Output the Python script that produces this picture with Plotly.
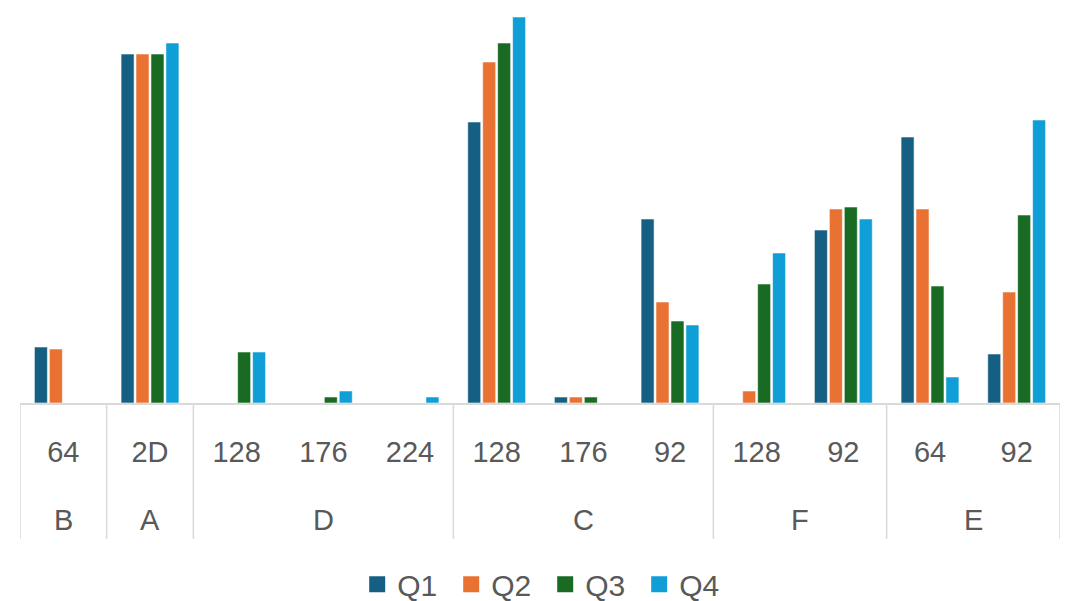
import plotly.graph_objects as go

# Two-level categories: group (outer) and size (inner)
groups = ["B", "A", "D", "D", "D", "C", "C", "C", "F", "F", "E", "E"]
sizes = ["64", "2D", "128", "176", "224", "128", "176", "92", "128", "92", "64", "92"]

series_names = ["Q1", "Q2", "Q3", "Q4"]
q1 = [56, 349, None, None, None, 281, 6, 184, None, 173, 266, 49]
q2 = [54, 349, None, None, None, 341, 6, 101, 12, 194, 194, 111]
q3 = [None, 349, 51, 6, None, 360, 6, 82, 119, 196, 117, 188]
q4 = [None, 360, 51, 12, 6, 386, None, 78, 150, 184, 26, 283]

colors = ["#156082", "#E97132", "#196B24", "#0F9ED5"]
text_color = "#595959"
rule_color = "#d9d9d9"
font_family = "Liberation Sans, Arial, sans-serif"

positions = list(range(len(sizes)))

fig = go.Figure()
for name, vals, col in zip(series_names, [q1, q2, q3, q4], colors):
    fig.add_trace(go.Bar(
        x=positions, y=vals, name=name,
        marker=dict(color=col, line=dict(color="rgba(255,255,255,0.55)", width=1)),
        showlegend=False,
    ))
    # legend entry with a larger square swatch
    fig.add_trace(go.Scatter(
        x=[None], y=[None], mode="markers", name=name,
        marker=dict(symbol="square", size=16, color=col),
        showlegend=True, hoverinfo="skip",
    ))

# spans of the outer groups: (label, first index, last index)
spans = []
for i, g in enumerate(groups):
    if spans and spans[-1][0] == g:
        spans[-1][2] = i
    else:
        spans.append([g, i, i])

label_depth = -0.34  # bottom of the divider rules, in paper units
for g, a, b in spans:
    fig.add_annotation(
        x=(a + b) / 2, xref="x", y=0, yref="paper", yanchor="middle",
        yshift=-117, text=g, showarrow=False,
        font=dict(size=29, color=text_color, family=font_family),
    )
boundaries = [spans[0][1] - 0.5] + [b + 0.5 for _, _, b in spans]
for xb in boundaries:
    fig.add_shape(
        type="line", xref="x", yref="paper", x0=xb, x1=xb, y0=0, y1=label_depth,
        line=dict(color=rule_color, width=1.5), layer="below",
    )

fig.update_layout(
    width=1069, height=601,
    margin=dict(l=20, r=9, t=3, b=198, autoexpand=False),
    paper_bgcolor="white", plot_bgcolor="white",
    barmode="group", bargap=0.31, bargroupgap=0.13,
    font=dict(family=font_family, size=29, color=text_color),
    legend=dict(
        orientation="h", x=0.505, xanchor="center",
        yref="container", y=0.028, yanchor="middle",
        font=dict(size=30, color=text_color),
        itemwidth=30, traceorder="normal",
        entrywidth=49, entrywidthmode="pixels",
    ),
    xaxis=dict(
        range=[-0.5, len(sizes) - 0.5], automargin=False,
        tickmode="array", tickvals=positions, ticktext=sizes,
        showline=True, linecolor=rule_color, linewidth=1.5,
        showgrid=False, zeroline=False, ticks="", ticklabelstandoff=22,
        tickfont=dict(size=29, color=text_color),
    ),
    yaxis=dict(range=[0, 400], visible=False, showgrid=False, zeroline=False,
               automargin=False),
)

fig.write_html("out.html")
